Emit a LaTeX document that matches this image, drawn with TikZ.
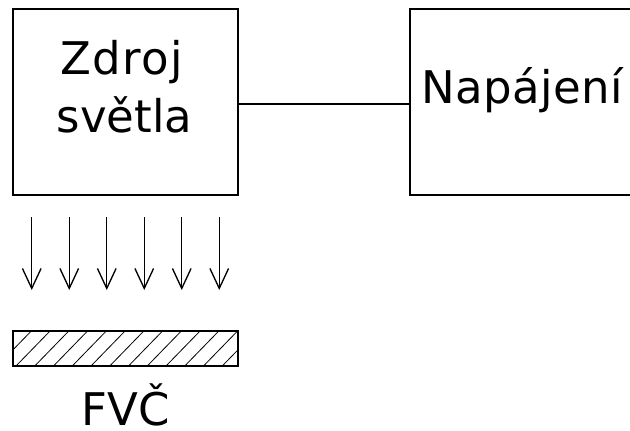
\documentclass[tikz,border=0pt]{standalone}
\usepackage{fontspec}
\setmainfont{DejaVu Sans}
\usetikzlibrary{arrows.meta}
\begin{document}
\begin{tikzpicture}[x=0.75pt,y=-0.75pt,
  block/.style={draw, line width=1pt, inner sep=0pt,
    minimum width=168.75pt, minimum height=139.5pt},
  filter/.style={draw, line width=1pt, inner sep=0pt,
    minimum width=168.75pt, minimum height=26.25pt},
  lbl/.style={inner sep=0pt, font=\fontsize{33.75}{43.5}\selectfont},
  ray/.style={line width=1pt, -{Straight Barb[length=15pt,width=14pt,line width=1pt]}},
  hatch/.style={line width=0.6pt},
  link/.style={line width=1pt}]
\useasboundingbox (0,0) rectangle (630,430);
\clip (0,0) rectangle (630,430);

% light source and power supply
\node[block] (zdroj) at (125.5,102) {};
\node[block] (napajeni) at (522.5,102) {};
\node[lbl, anchor=base] (zdrojA) at (121.5,74) {\addfontfeature{LetterSpace=3}Zdroj};
\node[lbl, anchor=base] (zdrojB) at (124.5,132) {světla};
\node[lbl, anchor=base] (napajenitxt) at (522.5,103) {\addfontfeature{LetterSpace=1}Napájení};
\draw[link] ([yshift=-1.5pt]zdroj.east) -- ([yshift=-1.5pt]napajeni.west);

% light rays
\foreach \i in {0,...,5} {
  \coordinate (raytop\i) at (31.75+37.5*\i,217);
  \coordinate (raytip\i) at (31.75+37.5*\i,290);
  \draw[ray] (raytop\i) -- (raytip\i);
}

% photovoltaic cell
\node[filter] (fvc) at (125.5,348.5) {};
\begin{scope}
  \clip (fvc.south west) rectangle (fvc.north east);
  \foreach \k in {-3,...,12}
    \draw[hatch] (15+18.75*\k,367) -- (15+18.75*\k+36,330);
\end{scope}
\node[filter] at (fvc) {};
\node[lbl, anchor=base] (fvctxt) at (126,425) {FVČ};
\end{tikzpicture}
\end{document}
